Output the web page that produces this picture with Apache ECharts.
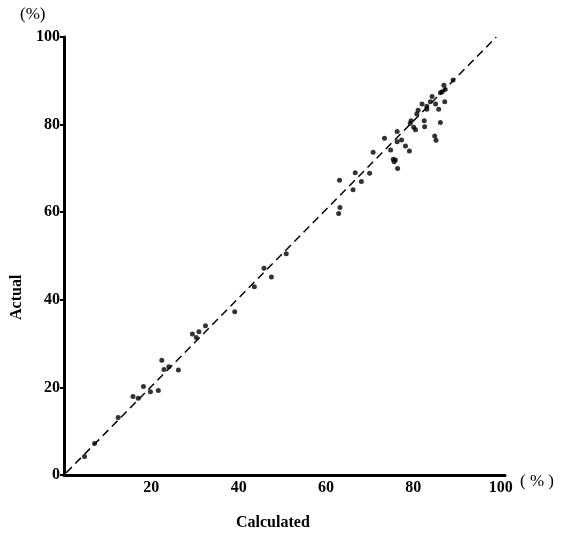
<!DOCTYPE html>
<html lang="en">
<head>
  <meta charset="UTF-8">
  <title>Calculated vs Actual</title>
  <script src="https://cdn.jsdelivr.net/npm/echarts@6/dist/echarts.min.js"></script>
</head>
<body style="margin:0;background:#fff">
<div id="main" style="width: 562px;height: 543px;"></div>
<script>
  // calculated (%) vs actual (%)
  let calculated = [89.1, 87.0, 87.3, 86.6, 86.2, 84.3, 83.9, 87.2, 85.1, 82.0, 83.1, 83.1, 85.8, 81.1, 80.8,
    79.5, 79.3, 82.5, 86.2, 80.1, 80.5, 82.6, 76.3, 73.4, 76.3, 77.3, 84.9, 85.2, 78.2, 79.1, 74.8, 70.8,
    75.4, 75.9, 75.6, 76.4, 66.7, 70.0, 68.1, 63.1, 66.2, 63.2, 62.9, 50.9, 45.8, 47.5, 43.6, 39.1, 32.4,
    29.4, 30.9, 30.3, 22.4, 24.0, 22.9, 26.2, 18.2, 15.8, 17.0, 19.8, 21.6, 12.4, 7.0, 4.7]
  let actual = [90.2, 89.0, 88.0, 87.5, 87.3, 86.4, 85.2, 85.2, 84.7, 84.7, 84.2, 83.5, 83.5, 83.3, 82.4,
    80.9, 80.3, 80.9, 80.5, 79.4, 78.8, 79.5, 78.4, 76.9, 76.1, 76.5, 77.4, 76.4, 75.1, 74.0, 74.2, 73.7,
    72.1, 71.9, 71.5, 70.0, 69.0, 68.9, 67.0, 67.3, 65.1, 61.1, 59.7, 50.5, 47.2, 45.2, 43.0, 37.3, 34.1,
    32.2, 32.7, 31.4, 26.2, 24.7, 24.1, 24.0, 20.2, 17.9, 17.5, 19.0, 19.3, 13.1, 7.2, 4.2]
  let refLine = [[0.5, 0.5], [99, 100]]
  let tickLabels = [0, 20, 40, 60, 80, 100]

  let points = calculated.map((c, i) => [c, actual[i]])
  let labelFont = {color: '#000', fontFamily: 'Liberation Serif', fontWeight: 'bold', fontSize: 16}

  let myChart = echarts.init(document.getElementById('main'))
  let option = {
    backgroundColor: '#fff',
    animation: false,
    grid: {left: 64, top: 37, width: 441, height: 438},
    xAxis: {
      type: 'value', min: 0, max: 101, interval: 20,
      axisLine: {lineStyle: {color: '#000', width: 3}},
      axisTick: {show: false},
      splitLine: {show: false},
      axisLabel: Object.assign({
        margin: 5,
        formatter: v => (v === 0 || tickLabels.indexOf(v) < 0) ? '' : String(v)
      }, labelFont)
    },
    yAxis: {
      type: 'value', min: 0, max: 100, interval: 20,
      axisLine: {lineStyle: {color: '#000', width: 3}},
      axisTick: {show: true, length: 4, lineStyle: {color: '#000', width: 2}},
      splitLine: {show: false},
      axisLabel: Object.assign({margin: 4}, labelFont)
    },
    graphic: [
      {type: 'text', left: 20, top: 6, style: {text: '(%)', fill: '#000', font: '17px "Liberation Serif"'}},
      {type: 'text', left: 520, top: 473, style: {text: '( % )', fill: '#000', font: '17px "Liberation Serif"'}},
      {type: 'text', left: 236, top: 515, style: {text: 'Calculated', fill: '#000', font: 'bold 16px "Liberation Serif"'}},
      {type: 'text', x: 9, y: 320, rotation: Math.PI / 2, style: {text: 'Actual', fill: '#000', font: 'bold 16px "Liberation Serif"'}}
    ],
    series: [
      {
        type: 'line',
        data: refLine,
        symbol: 'none',
        lineStyle: {color: '#000', width: 1.5, type: [8, 5]}
      },
      {
        type: 'scatter',
        data: points,
        symbolSize: 5,
        itemStyle: {color: '#000'}
      }
    ]
  }
  myChart.setOption(option)
</script>
</body>
</html>
